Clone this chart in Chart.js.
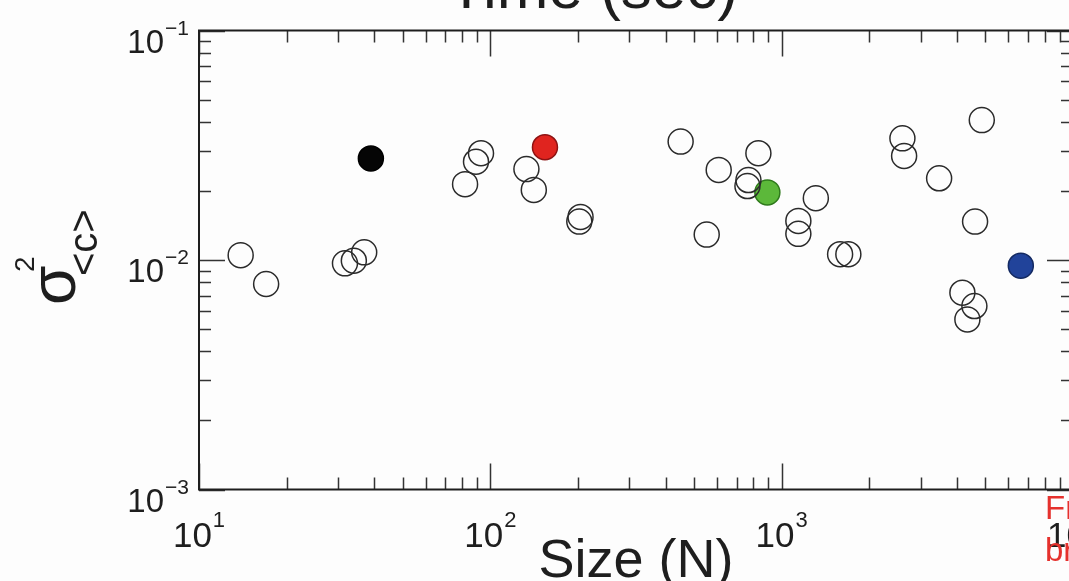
<!DOCTYPE html>
<html>
<head>
<meta charset="utf-8">
<script src="https://cdn.jsdelivr.net/npm/chart.js@4.4.1/dist/chart.umd.min.js"></script>
<style>
  html, body { margin: 0; padding: 0; background: #fdfdfd; overflow: hidden; }
  #wrap { position: relative; width: 1069px; height: 581px; overflow: hidden; }
  #chart { position: absolute; left: 0; top: 0; }
</style>
</head>
<body>
<div id="wrap"><canvas id="chart" width="1100" height="581"></canvas></div>
<script>
// networks: size N against variance of mean clustering
const openSize = [13.9, 17.0, 31.7, 34.0, 36.9, 81.9, 89.3, 92.9, 133, 141,
                  204, 202, 450, 608, 553, 832, 769, 763, 1310, 1141,
                  1141, 1587, 1694, 2597, 2632, 3471, 4863, 4612, 4172, 4587, 4340];
const openSigma = [0.0105, 0.00786, 0.00967, 0.00993, 0.0108, 0.0214, 0.0268, 0.0292, 0.0249, 0.0202,
                   0.0154, 0.0147, 0.0328, 0.0247, 0.0129, 0.0292, 0.0223, 0.0210, 0.0186, 0.0148,
                   0.0130, 0.0106, 0.0106, 0.0339, 0.0284, 0.0227, 0.0407, 0.0147, 0.00720, 0.00630, 0.00551];

// highlighted networks
const markedSize = [38.9, 154, 893, 6620];
const markedSigma = [0.0277, 0.0310, 0.0197, 0.00944];

// axis decades and their exponent labels
const xDecades = [10, 100, 1000, 10000];
const xExponents = ['1', '2', '3', '4'];
const yDecades = [0.001, 0.01, 0.1];
const yExponents = ['\u22123', '\u22122', '\u22121'];
const minorSteps = [2, 3, 4, 5, 6, 7, 8, 9];

const markedFill = ['#050505', '#e0241f', '#5cb83a', '#21439a'];
const markedEdge = ['#000000', '#8e1313', '#2f7a1c', '#142a62'];

const FONT = '"Liberation Sans", Arial, Helvetica, sans-serif';
const INK = '#1e1e1e';

// draws "10" with a raised exponent
function drawPower(ctx, base, exp, x, yBase, yExp, baseSize, expSize, align) {
    ctx.font = baseSize + 'px ' + FONT;
    const wb = ctx.measureText(base).width;
    ctx.font = expSize + 'px ' + FONT;
    const we = ctx.measureText(exp).width;
    const total = wb + 1 + we;
    let left = x;
    if (align === 'right') left = x - total;
    if (align === 'center') left = x - total / 2;
    ctx.textAlign = 'left';
    ctx.textBaseline = 'alphabetic';
    ctx.font = baseSize + 'px ' + FONT;
    ctx.fillText(base, left, yBase);
    ctx.font = expSize + 'px ' + FONT;
    ctx.fillText(exp, left + wb + 1, yExp);
}

// frame with inward ticks on all four sides, plus labels
const axesFrame = {
    id: 'axesFrame',
    afterDatasetsDraw(chart) {
        const { ctx, chartArea: a, scales: { x, y } } = chart;
        const major = 26, minor = 12;
        ctx.save();
        ctx.strokeStyle = '#333';
        ctx.lineWidth = 1.5;
        ctx.beginPath();

        xDecades.forEach(d => {
            const vals = [[d, major]];
            if (d < x.max) minorSteps.forEach(m => vals.push([d * m, minor]));
            vals.forEach(([v, len]) => {
                const px = Math.round(x.getPixelForValue(v)) + 0.5;
                ctx.moveTo(px, a.bottom); ctx.lineTo(px, a.bottom - len);
                ctx.moveTo(px, a.top); ctx.lineTo(px, a.top + len);
            });
        });
        yDecades.forEach(d => {
            const vals = [[d, major]];
            if (d < y.max) minorSteps.forEach(m => vals.push([d * m, minor]));
            vals.forEach(([v, len]) => {
                const py = Math.round(y.getPixelForValue(v)) + 0.5;
                ctx.moveTo(a.left, py); ctx.lineTo(a.left + len, py);
                ctx.moveTo(a.right, py); ctx.lineTo(a.right - len, py);
            });
        });
        ctx.stroke();

        ctx.strokeStyle = INK;
        ctx.lineWidth = 2;
        ctx.strokeRect(a.left, a.top, a.right - a.left, a.bottom - a.top);
        ctx.restore();
    },
    afterDraw(chart) {
        const { ctx, chartArea: a, scales: { x, y } } = chart;
        ctx.save();
        ctx.fillStyle = INK;

        // tick labels
        yDecades.forEach((d, i) => {
            const py = y.getPixelForValue(d);
            drawPower(ctx, '10', yExponents[i], a.left - 10, py + 22, py + 4, 33, 21, 'right');
        });
        xDecades.forEach((d, i) => {
            const px = x.getPixelForValue(d);
            drawPower(ctx, '10', xExponents[i], px, a.bottom + 57, a.bottom + 37, 35, 22, 'center');
        });

        // axis titles
        ctx.font = '54px ' + FONT;
        ctx.textAlign = 'center';
        ctx.fillText('Size (N)', (a.left + a.right) / 2, 577);
        ctx.font = '62px ' + FONT;
        ctx.textAlign = 'right';
        ctx.fillText('Time (sec)', 738, 8);

        // sigma^2 with <c> subscript, written bottom to top
        ctx.save();
        ctx.translate(0, 305);
        ctx.rotate(-Math.PI / 2);
        ctx.textAlign = 'left';
        ctx.font = '64px ' + FONT;
        ctx.fillText('\u03c3', 0, 75);
        ctx.font = '28px ' + FONT;
        ctx.fillText('2', 33, 34);
        ctx.font = '40px ' + FONT;
        ctx.fillText('<c>', 29, 97);
        ctx.restore();

        // side note, cut by the page edge
        ctx.fillStyle = '#e5312d';
        ctx.textAlign = 'left';
        ctx.font = '33px ' + FONT;
        ctx.fillText('Fr', 1045, 519);
        ctx.fillText('br', 1045, 561);
        ctx.restore();
    }
};

new Chart(document.getElementById('chart'), {
    type: 'scatter',
    data: {
        datasets: [
            {
                data: openSize.map((n, i) => ({ x: n, y: openSigma[i] })),
                pointRadius: 12.5,
                pointBorderWidth: 1.5,
                pointBorderColor: '#2b2b2b',
                pointBackgroundColor: 'rgba(0,0,0,0)'
            },
            {
                data: markedSize.map((n, i) => ({ x: n, y: markedSigma[i] })),
                pointRadius: 12.5,
                pointBorderWidth: 1.5,
                pointBorderColor: markedEdge,
                pointBackgroundColor: markedFill
            }
        ]
    },
    options: {
        responsive: false,
        animation: false,
        devicePixelRatio: 1,
        events: [],
        layout: { padding: { left: 199, top: 30.5, right: 27, bottom: 91.5 } },
        plugins: {
            legend: { display: false },
            tooltip: { enabled: false }
        },
        scales: {
            x: { type: 'logarithmic', min: 10, max: 10000, display: false },
            y: { type: 'logarithmic', min: 0.001, max: 0.1, display: false }
        }
    },
    plugins: [axesFrame]
});
</script>
</body>
</html>
